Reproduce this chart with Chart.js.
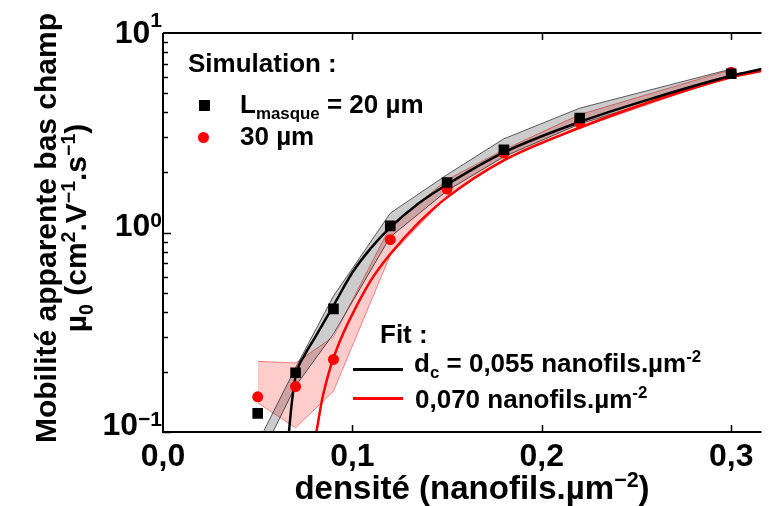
<!DOCTYPE html>
<html>
<head>
<meta charset="utf-8">
<script src="https://cdn.jsdelivr.net/npm/chart.js@4.4.1/dist/chart.umd.min.js"></script>
<style>
  html, body { margin: 0; padding: 0; background: #fff; overflow: hidden; }
  #wrap { position: relative; width: 769px; height: 506px; font-family: "Liberation Sans", Arial, sans-serif; font-weight: bold; color: #000; }
  canvas { position: absolute; left: 0; top: 0; }
  .txt { position: absolute; white-space: nowrap; font-size: 26px; line-height: 26px; }
  .sym { position: absolute; }
  sup, sub { font-size: 65%; line-height: 0; }
</style>
</head>
<body>
<div id="wrap">
  <canvas id="chart" width="769" height="506"></canvas>

  <!-- titres des axes -->
  <div class="txt" style="left:-169px; top:198px; width:460px; font-size:30px; line-height:30px; text-align:center; transform:rotate(-90deg);">
    Mobilité apparente bas champ<br>µ<sub>0</sub> (cm<sup>2</sup>.V<sup>−1</sup>.s<sup>−1</sup>)
  </div>
  <div class="txt" style="left:272px; top:471px; width:400px; font-size:33px; line-height:33px; text-align:center;">
    densité (nanofils.µm<sup>−2</sup>)
  </div>

  <!-- légende -->
  <div class="txt" style="left:188px; top:50px;">Simulation :</div>
  <div class="sym" style="left:199px; top:100px; width:11px; height:11px; background:#000;"></div>
  <div class="txt" style="left:240px; top:91px;">L<sub>masque</sub> = 20 µm</div>
  <div class="sym" style="left:198px; top:132px; width:11px; height:11px; border-radius:50%; background:#f00;"></div>
  <div class="txt" style="left:240px; top:123px;">30 µm</div>

  <div class="txt" style="left:380px; top:321px;">Fit :</div>
  <div class="sym" style="left:353px; top:368px; width:50px; height:2.5px; background:#000;"></div>
  <div class="txt" style="left:414px; top:350px;">d<sub>c</sub> = 0,055 nanofils.µm<sup>-2</sup></div>
  <div class="sym" style="left:353px; top:397px; width:50px; height:2.5px; background:#f00;"></div>
  <div class="txt" style="left:415px; top:386px;">0,070 nanofils.µm<sup>-2</sup></div>
</div>

<script>
// densités simulées (nanofils.µm-2)
const densite = [0.05, 0.07, 0.09, 0.12, 0.15, 0.18, 0.22, 0.30];

// mobilité simulée, L masque = 20 µm et 30 µm
const mu20 = [0.124, 0.198, 0.414, 1.08, 1.78, 2.60, 3.75, 6.25];
const mu30 = [0.150, 0.169, 0.231, 0.92, 1.65, 2.50, 3.54, 6.35];

// enveloppes (dispersion des simulations)
const bande20Haut = [0.088, 0.21, 0.48, 1.25, 1.95, 2.95, 4.2, 6.6];
const bande20Bas  = [0.070, 0.17, 0.31, 0.95, 1.62, 2.40, 3.5, 6.0];
const bande30Haut = [0.226, 0.222, 0.30, 1.07, 1.84, 2.60, 3.9, 6.55];
const bande30Bas  = [0.140, 0.105, 0.16, 0.77, 1.52, 2.32, 3.34, 6.1];

// courbes de fit
const fitX20 = [0.0665, 0.068, 0.070, 0.075, 0.080, 0.090, 0.100, 0.110, 0.120, 0.135, 0.150, 0.180, 0.220, 0.260, 0.300, 0.316];
const fit20  = [0.10, 0.14, 0.19, 0.245, 0.295, 0.43, 0.63, 0.84, 1.06, 1.40, 1.74, 2.52, 3.58, 4.75, 6.1, 6.6];
const fitX30 = [0.081, 0.084, 0.087, 0.090, 0.095, 0.100, 0.110, 0.120, 0.135, 0.150, 0.180, 0.220, 0.260, 0.300, 0.316];
const fit30  = [0.10, 0.145, 0.19, 0.235, 0.31, 0.39, 0.58, 0.78, 1.12, 1.50, 2.30, 3.35, 4.6, 6.0, 6.45];

// graduations
const xTicks = [0.1, 0.2, 0.3];
const yDecades = [0.1, 1, 10];
const yLabels = [["10", "−1"], ["10", "0"], ["10", "1"]];

function pts(xs, ys) {
    return xs.map((x, i) => ({ x: x, y: ys[i] }));
}

// Axes style MATLAB : cadre, graduations intérieures, étiquettes 10^n
const axesPlugin = {
    id: 'axesMatlab',
    afterDraw(chart) {
        const ctx = chart.ctx;
        const a = chart.chartArea;
        const xs = chart.scales.x;
        const ys = chart.scales.y;
        ctx.save();
        ctx.strokeStyle = '#000';
        ctx.lineWidth = 2;
        ctx.beginPath();
        ctx.moveTo(a.left, a.top); ctx.lineTo(a.right, a.top);
        ctx.moveTo(a.left, a.top); ctx.lineTo(a.left, a.bottom);
        ctx.lineTo(a.right, a.bottom);
        ctx.stroke();

        ctx.lineWidth = 1.5;
        ctx.beginPath();
        xTicks.forEach(v => {
            const px = Math.round(xs.getPixelForValue(v)) + 0.5;
            ctx.moveTo(px, a.bottom); ctx.lineTo(px, a.bottom - 7);
            ctx.moveTo(px, a.top); ctx.lineTo(px, a.top + 7);
        });
        yDecades.forEach((d, k) => {
            if (k === yDecades.length - 1) return;
            for (let m = 1; m <= 9; m++) {
                const py = Math.round(ys.getPixelForValue(d * m)) + 0.5;
                ctx.moveTo(a.left, py); ctx.lineTo(a.left + (m === 1 ? 8 : 5), py);
            }
        });
        ctx.stroke();

        ctx.fillStyle = '#000';
        ctx.textAlign = 'right';
        ctx.textBaseline = 'alphabetic';
        yDecades.forEach((d, k) => {
            const py = ys.getPixelForValue(d);
            ctx.font = 'bold 21px "Liberation Sans", Arial, sans-serif';
            const wSup = ctx.measureText(yLabels[k][1]).width;
            ctx.fillText(yLabels[k][1], a.left - 1, py - 6);
            ctx.font = 'bold 32px "Liberation Sans", Arial, sans-serif';
            ctx.fillText(yLabels[k][0], a.left - 1 - wSup, py + (k === 2 ? 10 : 3));
        });
        ctx.restore();
    }
};

const ctx = document.getElementById('chart').getContext('2d');
new Chart(ctx, {
    type: 'line',
    data: {
        datasets: [
            {
                data: pts(densite, bande20Haut), fill: '+1',
                backgroundColor: 'rgba(0,0,0,0.2)', borderColor: 'rgba(40,40,40,0.75)', borderWidth: 1,
                pointRadius: 0, order: 3
            },
            {
                data: pts(densite, bande20Bas), fill: false,
                borderColor: 'rgba(40,40,40,0.75)', borderWidth: 1, pointRadius: 0, order: 3
            },
            {
                data: pts(densite, bande30Haut), fill: '+1',
                backgroundColor: 'rgba(255,0,0,0.2)', borderColor: 'rgba(230,0,0,0.45)', borderWidth: 1,
                pointRadius: 0, order: 3
            },
            {
                data: pts(densite, bande30Bas), fill: false,
                borderColor: 'rgba(230,0,0,0.45)', borderWidth: 1, pointRadius: 0, order: 3
            },
            {
                data: pts(fitX20, fit20), borderColor: '#000', borderWidth: 2.5,
                pointRadius: 0, cubicInterpolationMode: 'monotone', fill: false, order: 2
            },
            {
                data: pts(fitX30, fit30), borderColor: '#f00', borderWidth: 2.5,
                pointRadius: 0, cubicInterpolationMode: 'monotone', fill: false, order: 2
            },
            {
                data: pts(densite, mu20), showLine: false, pointStyle: 'rect',
                pointRadius: 7.5, backgroundColor: '#000', borderColor: '#000', borderWidth: 0, order: 1
            },
            {
                data: pts(densite, mu30), showLine: false, pointStyle: 'circle',
                pointRadius: 5.5, backgroundColor: '#f00', borderColor: '#f00', borderWidth: 0, order: 1
            }
        ]
    },
    options: {
        responsive: false,
        animation: false,
        events: [],
        layout: { padding: { top: 33, left: 0, right: 0, bottom: 0 } },
        plugins: {
            legend: { display: false },
            tooltip: { enabled: false }
        },
        scales: {
            x: {
                type: 'linear',
                min: 0,
                max: 0.316,
                grid: { display: false },
                border: { display: false },
                ticks: {
                    stepSize: 0.1,
                    includeBounds: false,
                    padding: -2,
                    color: '#000',
                    font: { family: '"Liberation Sans", Arial, sans-serif', size: 32, weight: 'bold' },
                    maxRotation: 0,
                    callback: v => v.toFixed(1).replace('.', ',')
                },
                afterFit: s => { s.height = 74; }
            },
            y: {
                type: 'logarithmic',
                min: 0.1,
                max: 10,
                grid: { display: false },
                border: { display: false },
                ticks: { display: false },
                afterFit: s => { s.width = 163; }
            }
        }
    },
    plugins: [axesPlugin]
});
</script>
</body>
</html>
